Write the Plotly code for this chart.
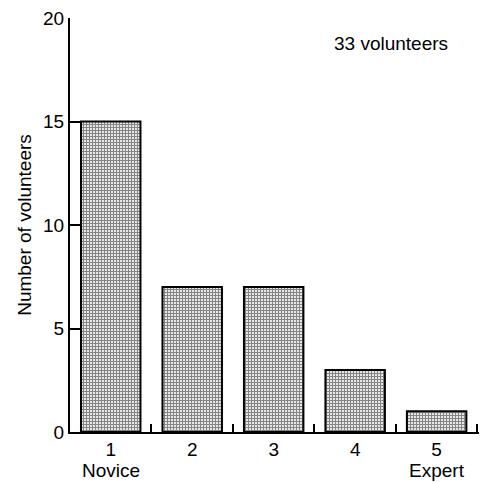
import plotly.graph_objects as go

levels = [1, 2, 3, 4, 5]
volunteers = [15, 7, 7, 3, 1]
level_labels = ["1", "2", "3", "4", "5"]
y_ticks = [0, 5, 10, 15, 20]
divider_ticks = [1.5, 2.5, 3.5, 4.5, 5.5]

FONT = "Liberation Sans, Arial, Helvetica, sans-serif"
FS = 19

fig = go.Figure()
fig.add_trace(go.Bar(
    x=levels, y=volunteers, width=0.73,
    marker=dict(
        color="white",
        line=dict(color="black", width=2),
        pattern=dict(shape="+", size=3, solidity=0.6, fgcolor="#1a1a1a", bgcolor="#eeeeee"),
    ),
    showlegend=False,
))
# invisible trace on secondary x axis for category labels
fig.add_trace(go.Scatter(x=levels, y=[0]*5, xaxis="x2", mode="markers",
                         marker=dict(opacity=0), showlegend=False, hoverinfo="skip"))

L, R, T, B = 70, 3, 18, 50
plot_w = 482 - L - R
plot_h = 482 - T - B

fig.update_layout(
    width=482, height=482,
    margin=dict(l=L, r=R, t=T, b=B, autoexpand=False),
    plot_bgcolor="white", paper_bgcolor="white",
    font=dict(family=FONT, size=FS, color="black"),
    xaxis=dict(range=[0.5, 5.52], tickvals=divider_ticks, ticktext=[""]*5,
               ticks="inside", ticklen=8, tickwidth=2, tickcolor="black",
               showline=True, linecolor="black", linewidth=2,
               showgrid=False, zeroline=False, fixedrange=True),
    xaxis2=dict(range=[0.5, 5.52], overlaying="x", side="bottom",
                tickvals=levels, ticktext=level_labels, ticks="",
                showline=False, showgrid=False, zeroline=False,
                ticklabelstandoff=4, tickfont=dict(size=FS)),
    yaxis=dict(range=[0, 20], tickvals=y_ticks, ticks="inside", ticklen=10,
               tickwidth=2, tickcolor="black", showline=True, linecolor="black",
               linewidth=2, showgrid=False, zeroline=False,
               title=dict(text="Number of volunteers", font=dict(size=FS), standoff=6),
               tickfont=dict(size=FS)),
    annotations=[
        dict(text="33 volunteers", x=(391 - L) / plot_w, y=(432 - 44) / plot_h,
             xref="paper", yref="paper", xanchor="center", yanchor="middle",
             showarrow=False, font=dict(size=FS)),
        dict(text="Novice", x=1, y=-(470 - 432) / plot_h, xref="x", yref="paper",
             xanchor="center", yanchor="middle", showarrow=False, font=dict(size=FS)),
        dict(text="Expert", x=5, y=-(470 - 432) / plot_h, xref="x", yref="paper",
             xanchor="center", yanchor="middle", showarrow=False, font=dict(size=FS)),
    ],
)

fig.write_html("out.html")
